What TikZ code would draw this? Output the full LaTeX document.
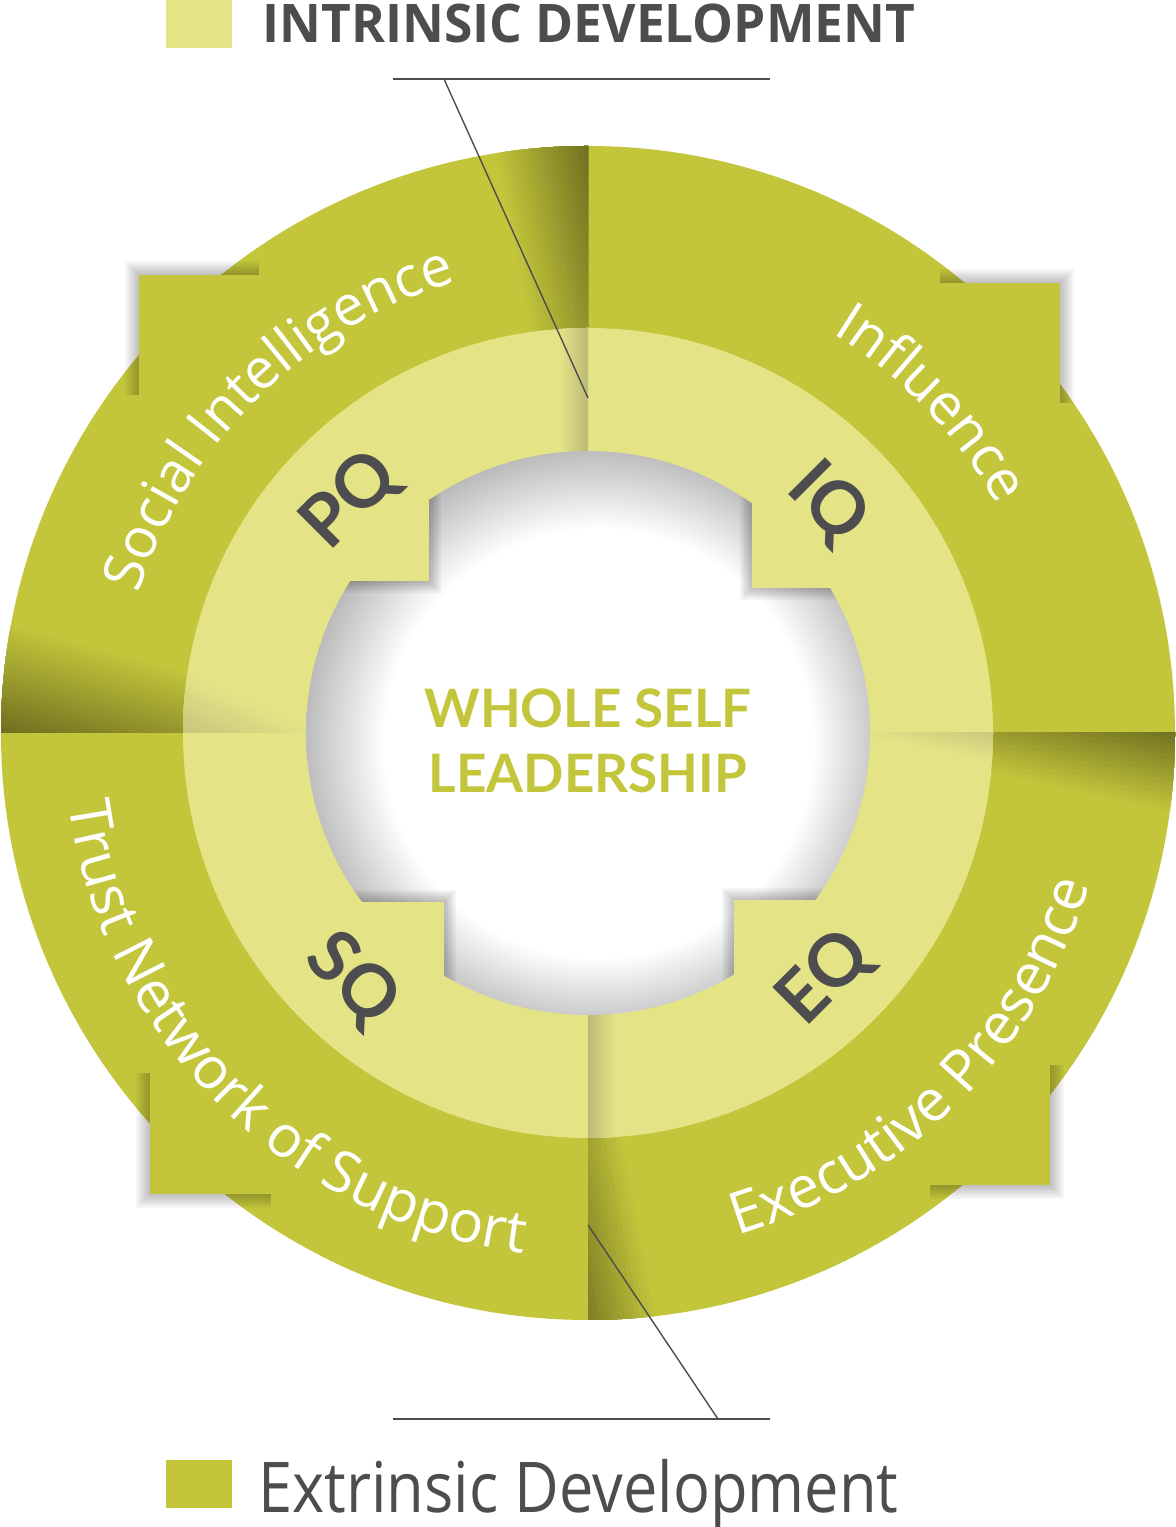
\documentclass[tikz,border=0pt]{standalone}
\usepackage{fontspec}
\usetikzlibrary{decorations.text}
\newfontfamily\ringfont{Open Sans}
\newfontfamily\latofont{Lato}
\newfontfamily\legfont{Open Sans}
\definecolor{ringgreen}{RGB}{195,198,59}
\definecolor{ringlight}{RGB}{228,228,135}
\definecolor{folddark}{RGB}{98,97,28}
\definecolor{innerdark}{RGB}{186,184,118}
\definecolor{txtgray}{RGB}{77,77,79}
\pgfdeclareradialshading{holeshade}{\pgfpoint{1.5bp}{-1.5bp}}{color(0bp)=(white); color(19bp)=(white); color(26bp)=(black!27); color(50bp)=(black!27)}
\begin{document}
\begin{tikzpicture}[x=0.5pt,y=0.5pt,
  tabshadow/.style={fill=black, fill opacity=0.035},
  innershadow/.style={fill=black, fill opacity=0.04},
  qlabel/.style={font=\latofont\bfseries\fontsize{36}{36}\selectfont, text=txtgray, inner sep=0},
  centertext/.style={font=\latofont\bfseries\fontsize{26.5}{27}\selectfont, text=ringgreen, inner sep=0, anchor=base},
  hline/.style={draw=txtgray, line width=1pt},
  leader/.style={draw=txtgray, line width=0.7pt},
  ringlabel/.style={decorate, decoration={text along path, text align=center, text={|\ringfont\fontsize{28}{28}\selectfont\color{white}|#1}}},
  ringlabelb/.style={decorate, decoration={text along path, text align=center, text={|\ringfont\fontsize{29}{29}\selectfont\color{white}|#1}}},
  legendtext/.style={anchor=base west, inner sep=0, text=txtgray}
]
\fill[white] (0,0) rectangle (1176,1527);
\useasboundingbox (0,0) rectangle (1176,1527);

% ---------- outer ring ----------
\begin{scope}[shift={(588,794)}]
  \fill[ringgreen] (0,0) circle (587);
  % folds of the top-left piece
  \begin{scope}
    \clip (0,0) -- (-600,0) -- (-600,600) -- (0,600) -- cycle;
    \clip (0,0) circle (587);
    \begin{scope}[rotate around={-15.3:(-587,115)}]
      \foreach \k in {1,...,26} {
        \pgfmathsetmacro\yy{115-5*\k}
        \pgfmathtruncatemacro\pp{4*\k}
        \fill[folddark!\pp!ringgreen] (-700,-500) rectangle (100,\yy);
      }
    \end{scope}
    \begin{scope}[rotate around={11.4:(-98,587)}]
      \foreach \k in {1,...,22} {
        \pgfmathsetmacro\xx{-98+5*\k}
        \pgfmathtruncatemacro\pp{100*\k/22}
        \fill[folddark!\pp!ringgreen] (\xx,-100) rectangle (500,700);
      }
    \end{scope}
  \end{scope}
  % folds of the bottom-right piece
  \begin{scope}
    \clip (0,0) -- (600,0) -- (600,-600) -- (0,-600) -- cycle;
    \clip (0,0) circle (587);
    \begin{scope}[rotate around={-12.4:(587,-84)}]
      \foreach \k in {1,...,19} {
        \pgfmathsetmacro\yy{-84+5*\k}
        \pgfmathtruncatemacro\pp{100*\k/19}
        \fill[folddark!\pp!ringgreen] (100,\yy) rectangle (700,500);
      }
    \end{scope}
    \begin{scope}[rotate around={11.2:(73,-587)}]
      \foreach \k in {1,...,19} {
        \pgfmathsetmacro\xx{73-5*\k}
        \pgfmathtruncatemacro\pp{100*\k/19}
        \fill[folddark!\pp!ringgreen] (-500,-700) rectangle (\xx,100);
      }
    \end{scope}
  \end{scope}
\end{scope}

% ---------- outer corner tabs ----------
\foreach \d in {2,4,...,14} {
  \fill[tabshadow] (139-\d,1132) rectangle (259,1252+\d);
  \fill[tabshadow] (940,1124) rectangle (1060+\d,1244+\d);
  \fill[tabshadow] (150-\d,333-\d) rectangle (271,454);
  \fill[tabshadow] (930,342-\d) rectangle (1050+\d,462);
}
\fill[ringgreen] (139,1124) rectangle (267,1252);
\fill[ringgreen] (932,1116) rectangle (1060,1244);
\fill[ringgreen] (150,333) rectangle (279,462);
\fill[ringgreen] (922,342) rectangle (1050,470);

% ---------- inner ring and centre ----------
\begin{scope}[shift={(588,794)}]
  \fill[ringlight] (0,0) circle (405);
  \begin{scope}
    \clip (0,0) -- (-420,0) -- (-420,420) -- (0,420) -- cycle;
    \clip (0,0) circle (405);
    \begin{scope}[rotate around={-24:(-405,65)}]
      \foreach \k in {1,...,16} {
        \pgfmathsetmacro\yy{65-5*\k}
        \pgfmathtruncatemacro\pp{100*\k/16}
        \fill[innerdark!\pp!ringlight] (-500,-300) rectangle (-150,\yy);
      }
    \end{scope}
    \foreach \k in {1,...,10} {
      \pgfmathsetmacro\xx{-30+3*\k}
      \pgfmathtruncatemacro\pp{10*\k}
      \fill[innerdark!\pp!ringlight] (\xx,200) rectangle (0,420);
    }
  \end{scope}
  \begin{scope}
    \clip (0,0) -- (420,0) -- (420,-420) -- (0,-420) -- cycle;
    \clip (0,0) circle (405);
    \begin{scope}[rotate around={-11.9:(405,-33)}]
      \foreach \k in {1,...,10} {
        \pgfmathsetmacro\yy{-33+5*\k}
        \pgfmathtruncatemacro\pp{10*\k}
        \fill[innerdark!\pp!ringlight] (150,\yy) rectangle (500,300);
      }
    \end{scope}
    \foreach \k in {1,...,10} {
      \pgfmathsetmacro\xx{30-3*\k}
      \pgfmathtruncatemacro\pp{10*\k}
      \fill[innerdark!\pp!ringlight] (0,-420) rectangle (\xx,-200);
    }
  \end{scope}
  \shade[shading=holeshade] (0,0) circle (282);
  % inner tab shadows
  \begin{scope}
    \clip (0,0) circle (282);
    \foreach \d in {2,4,...,12} {
      \fill[innershadow] (-290,152-\d) rectangle (-159+\d,280);
      \fill[innershadow] (164-\d,145-\d) rectangle (290,280);
      \fill[innershadow] (-290,-290) rectangle (-144+\d,-169+\d);
      \fill[innershadow] (146-\d,-290) rectangle (290,-167+\d);
    }
  \end{scope}
  % inner tabs
  \fill[ringlight] (-279,152) rectangle (-159,272);
  \fill[ringlight] (164,145) rectangle (284,265);
  \fill[ringlight] (-264,-289) rectangle (-144,-169);
  \fill[ringlight] (146,-287) rectangle (266,-167);
  % labels
  \node[qlabel, rotate=45] (pq) at (135.7:332) {PQ};
  \node[qlabel, rotate=-45] (iq) at (43.8:332) {IQ};
  \node[qlabel, rotate=-45] (sq) at (226.3:342) {SQ};
  \node[qlabel, rotate=45] (eq) at (314:341) {EQ};
  \node[centertext] (whole) at (0,5) {WHOLE SELF};
  \node[centertext] (lead) at (0,-60) {LEADERSHIP};
  \path[ringlabel={Social Intelligence}] (184.5:470) arc[start angle=184.5, end angle=84.5, radius=470];
  \path[ringlabel={Influence}] (93.8:468) arc[start angle=93.8, end angle=-6.2, radius=468];
  \path[ringlabelb={Trust Network of Support}] (175.3:524) arc[start angle=175.3, end angle=275.3, radius=524];
  \path[ringlabelb={Executive Presence}] (264.9:524) arc[start angle=264.9, end angle=364.9, radius=524];
\end{scope}

% ---------- legend ----------
\fill[ringlight] (166,1479) rectangle (232,1527);
\node[legendtext] (intr) at (262,1484) {\resizebox{326.5pt}{\height}{\legfont\bfseries\fontsize{26.6}{27}\selectfont INTRINSIC DEVELOPMENT}};
\fill[ringgreen] (166,19) rectangle (232,67);
\node[legendtext] (extr) at (258,15) {\resizebox{320pt}{\height}{\legfont\fontsize{35}{36}\selectfont Extrinsic Development}};

\coordinate (ta) at (393,1448);
\coordinate (tb) at (770,1448);
\coordinate (tk) at (444,1448);
\coordinate (te) at (588,1129);
\draw[hline] (ta) -- (tb);
\draw[leader] (tk) -- (te);
\coordinate (ba) at (393,108);
\coordinate (bb) at (770,108);
\coordinate (bk) at (718,108);
\coordinate (be) at (588,302);
\draw[hline] (ba) -- (bb);
\draw[leader] (bk) -- (be);
\end{tikzpicture}
\end{document}
